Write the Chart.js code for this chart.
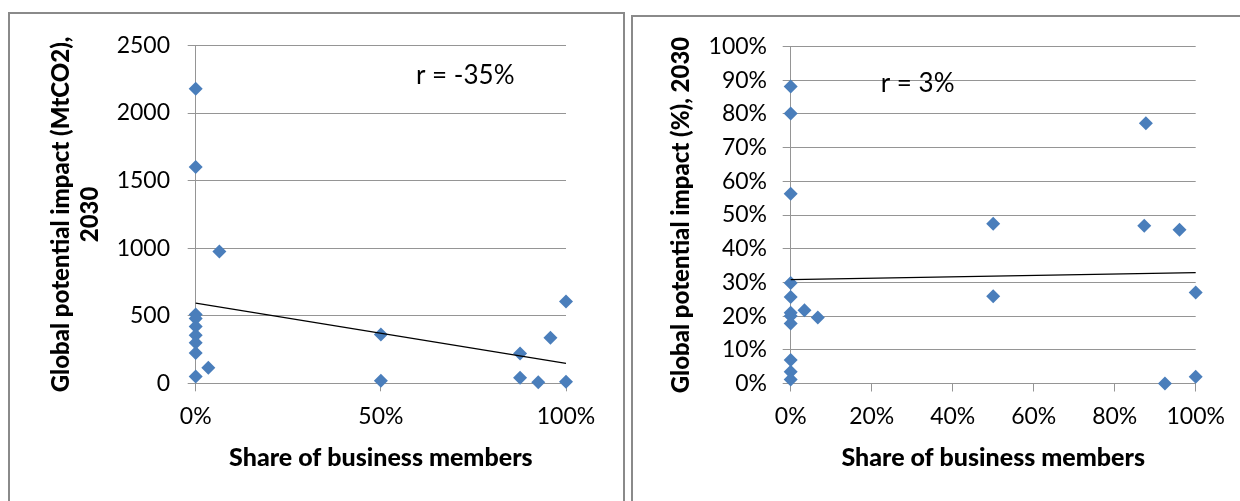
<!DOCTYPE html>
<html>
<head>
<meta charset="utf-8">
<script src="https://cdn.jsdelivr.net/npm/chart.js@4/dist/chart.umd.min.js"></script>
<style>
  html, body { margin: 0; padding: 0; background: #fff; width: 1240px; height: 501px; overflow: hidden; }
  .box { position: absolute; border: 2px solid #8a8a8a; background: #fff; }
  #boxA { left: 8px; top: 12px; width: 613px; height: 500px; }
  #boxB { left: 631px; top: 15px; width: 620px; height: 500px; }
  canvas { display: block; }
</style>
</head>
<body>
<div class="box" id="boxA"><canvas id="chartA" width="613" height="487"></canvas></div>
<div class="box" id="boxB"><canvas id="chartB" width="607" height="484"></canvas></div>
<script>
// left chart: share of business members vs impact in MtCO2
const shareA = [0, 0, 0.064, 0, 0, 0, 0, 0, 0, 0.034, 0, 0.5, 0.5, 0.876, 0.876, 0.925, 0.958, 1, 1];
const impactA = [2180, 1600, 975, 510, 480, 420, 355, 300, 225, 115, 50, 362, 19, 220, 41, 7, 338, 605, 12];
const trendA = [593, 147]; // fitted line at x = 0 and x = 1
const yTicksA = [0, 500, 1000, 1500, 2000, 2500];

// right chart: share of business members vs impact in %
const shareB = [0, 0, 0, 0, 0, 0, 0, 0, 0.034, 0.067, 0, 0, 0, 0.5, 0.5, 0.877, 0.873, 0.96, 1, 0.924, 1];
const impactB = [0.881, 0.801, 0.563, 0.298, 0.257, 0.21, 0.2, 0.178, 0.217, 0.196, 0.07, 0.035, 0.012, 0.474, 0.259, 0.772, 0.468, 0.456, 0.27, 0.0, 0.02];
const trendB = [0.308, 0.329];

const labelA = "r = -35%";
const labelB = "r = 3%";

const blue = "#4a7ebb";
const gridGray = "#959595";
const pct = (v) => Math.round(v * 100) + "%";

// writes the "r = ..." note at a fixed spot in the chart
const noteText = {
  id: "noteText",
  afterDraw(chart, args, opts) {
    const ctx = chart.ctx;
    ctx.save();
    ctx.font = "26px Lato";
    ctx.fillStyle = "#000";
    ctx.textBaseline = "middle";
    ctx.fillText(opts.text, opts.x, opts.y);
    ctx.restore();
  },
};

function makeChart(id, xs, ys, trend, cfg) {
  const points = xs.map((x, i) => ({ x: x, y: ys[i] }));
  return new Chart(document.getElementById(id), {
    type: "scatter",
    data: {
      datasets: [
        {
          type: "line",
          data: [{ x: 0, y: trend[0] }, { x: 1, y: trend[1] }],
          borderColor: "#000",
          borderWidth: 1.2,
          pointRadius: 0,
          order: 0,
          clip: false,
        },
        {
          data: points,
          pointStyle: "rectRot",
          pointRadius: 7,
          pointBackgroundColor: blue,
          pointBorderColor: blue,
          pointBorderWidth: 0,
          order: 1,
          clip: false,
        },
      ],
    },
    options: {
      responsive: false,
      animation: false,
      layout: { padding: cfg.padding },
      plugins: {
        legend: { display: false },
        tooltip: { enabled: false },
        noteText: cfg.note,
      },
      scales: {
        x: {
          type: "linear",
          min: 0,
          max: 1,
          afterFit: (s) => { s.height = 90; },
          ticks: {
            stepSize: cfg.xStep,
            padding: cfg.xTickPad,
            color: "#000",
            font: { family: "Lato", size: 23 },
            callback: pct,
          },
          grid: { drawOnChartArea: false, color: gridGray, tickLength: 8 },
          border: { color: gridGray },
          title: {
            display: true,
            text: "Share of business members",
            color: "#000",
            font: { family: "Lato", size: 25, weight: 900, lineHeight: 1.2 },
            padding: { top: 0, bottom: cfg.xTitlePad },
          },
        },
        y: {
          min: cfg.yMin,
          max: cfg.yMax,
          afterFit: (s) => { s.width = cfg.yWidth; },
          ticks: {
            stepSize: cfg.yStep,
            padding: cfg.yTickPad,
            color: "#000",
            font: { family: "Lato", size: 23 },
            callback: cfg.yFormat,
          },
          grid: { color: gridGray, tickLength: 8 },
          border: { color: gridGray },
          title: {
            display: true,
            text: cfg.yTitle,
            color: "#000",
            font: { family: "Lato", size: 24, weight: 900, lineHeight: 1.2 },
            padding: { top: cfg.yTitlePad, bottom: 0 },
          },
        },
      },
    },
    plugins: [noteText],
  });
}

makeChart("chartA", shareA, impactA, trendA, {
  padding: { top: 29.3, right: 57, bottom: 27.7, left: 0 },
  xStep: 0.5,
  xTickPad: 11.4,
  xTitlePad: 0.3,
  yMin: yTicksA[0],
  yMax: yTicksA[yTicksA.length - 1],
  yStep: 500,
  yWidth: 185.7,
  yTickPad: 17.7,
  yTitlePad: 36.9,
  yFormat: (v) => v,
  yTitle: ["Global potential impact (MtCO2),", "2030"],
  note: { text: labelA, x: 406, y: 62 },
});

makeChart("chartB", shareB, impactB, trendB, {
  padding: { top: 28.7, right: 44.3, bottom: 27.5, left: 0 },
  xStep: 0.2,
  xTickPad: 11.2,
  xTitlePad: 0.5,
  yMin: 0,
  yMax: 1,
  yStep: 0.1,
  yWidth: 157.7,
  yTickPad: 15.7,
  yTitlePad: 33.9,
  yFormat: pct,
  yTitle: "Global potential impact (%), 2030",
  note: { text: labelB, x: 247.7, y: 66.3 },
});
</script>
</body>
</html>
